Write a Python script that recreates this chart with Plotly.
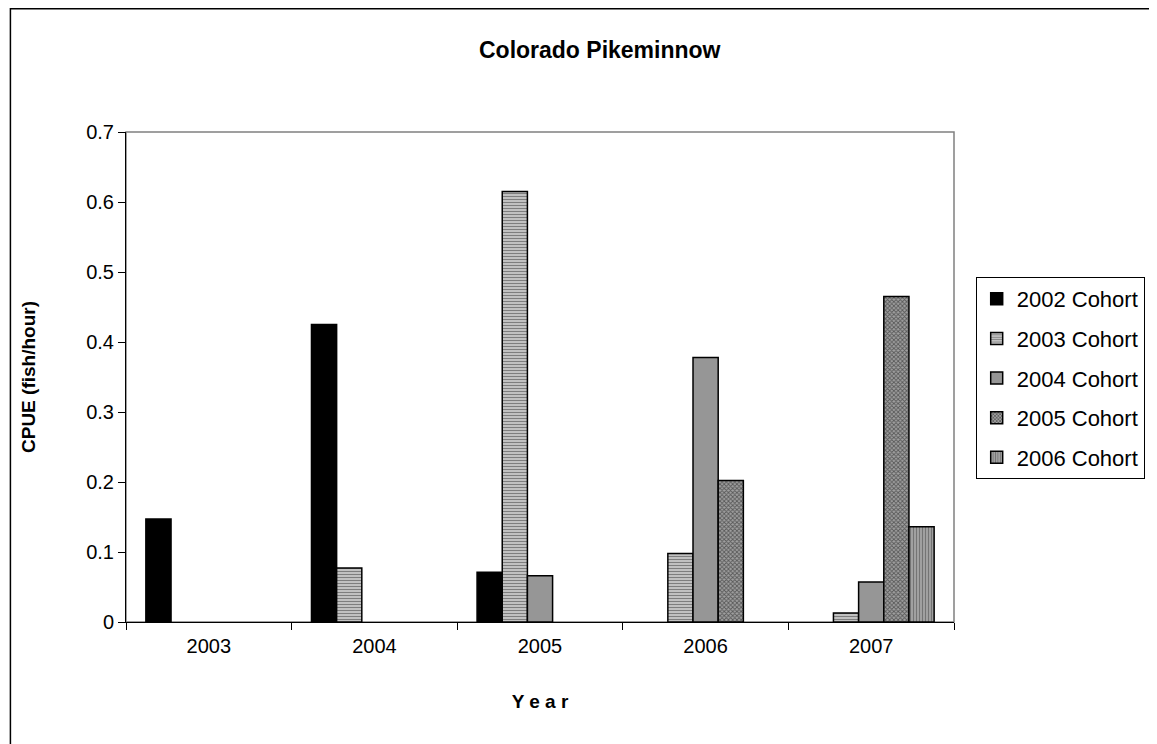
import plotly.graph_objects as go

# survey years on the x axis
years = ["2003", "2004", "2005", "2006", "2007"]

# CPUE (fish/hour) per cohort, None where nothing was caught
cohort_2002 = [0.147, 0.425, 0.071, None, None]
cohort_2003 = [None, 0.077, 0.615, 0.098, 0.013]
cohort_2004 = [None, None, 0.066, 0.378, 0.057]
cohort_2005 = [None, None, None, 0.202, 0.465]
cohort_2006 = [None, None, None, None, 0.136]

FONT = "Liberation Sans, Arial, sans-serif"

series = [
    ("2002 Cohort", cohort_2002, dict(color="black")),
    ("2003 Cohort", cohort_2003, dict(color="#ffffff",
        pattern=dict(shape="-", fgcolor="#333333", bgcolor="#c8c8c8", size=3, solidity=0.4))),
    ("2004 Cohort", cohort_2004, dict(color="#969696")),
    ("2005 Cohort", cohort_2005, dict(color="#ffffff",
        pattern=dict(shape="x", fgcolor="#111111", bgcolor="#a0a0a0", size=3, solidity=0.5))),
    ("2006 Cohort", cohort_2006, dict(color="#ffffff",
        pattern=dict(shape="|", fgcolor="#404040", bgcolor="#a8a8a8", size=3, solidity=0.45))),
]

fig = go.Figure()
for name, vals, mk in series:
    mk = dict(mk)
    mk["line"] = dict(color="black", width=1.5)
    fig.add_trace(go.Bar(x=years, y=vals, name=name, legendgroup=name, marker=mk))

# chart border (runs off the right/bottom edge) and grey plot-area frame
fig.add_shape(type="rect", xref="paper", yref="paper",
              x0=-0.1396, x1=2, y0=-1, y1=1.2515,
              line=dict(color="black", width=1.5), layer="below")
fig.add_shape(type="rect", xref="paper", yref="paper",
              x0=0, x1=1, y0=0, y1=1,
              line=dict(color="#808080", width=1.5), layer="below")

fig.update_layout(
    width=1149, height=736,
    margin=dict(l=118, r=191, t=124, b=122),
    paper_bgcolor="white", plot_bgcolor="white",
    font=dict(family=FONT, size=20, color="black"),
    barmode="group", bargap=0.24, bargroupgap=0,
    title=dict(text="<b>Colorado Pikeminnow</b>", font=dict(size=23),
               x=0.515, xanchor="center", y=1 - 42 / 736, yanchor="middle"),
    legend=dict(x=1.0262, y=0.704, xanchor="left", yanchor="top",
                bordercolor="black", borderwidth=1, font=dict(size=22),
                tracegroupgap=8, itemwidth=30),
    showlegend=True,
)
fig.update_xaxes(
    type="category", showline=True, linecolor="black", linewidth=1,
    ticks="outside", tickson="boundaries", ticklen=7, tickcolor="black",
    ticklabelstandoff=6, showgrid=False, mirror=False,
    title=dict(text="<b>Y e a r</b>", font=dict(size=19), standoff=38),
)
fig.update_yaxes(
    range=[0, 0.7], dtick=0.1,
    showline=True, linecolor="black", linewidth=1,
    ticks="outside", ticklen=7, tickcolor="black", showgrid=False,
    zeroline=False,
    title=dict(text="<b>CPUE (fish/hour)</b>", font=dict(size=19), standoff=45),
)

fig.write_html("out.html")
